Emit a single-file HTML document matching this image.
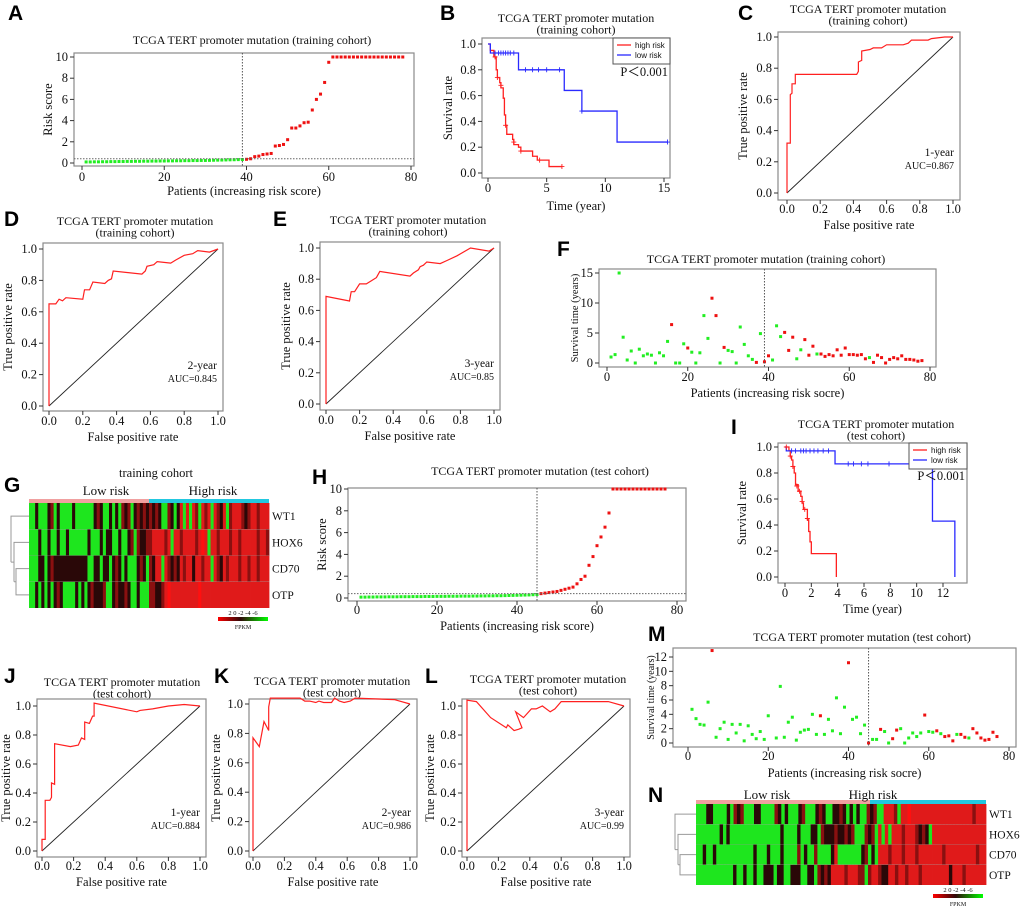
<!DOCTYPE html>
<html><head><meta charset="utf-8"><style>
html,body{margin:0;padding:0;background:#fff;}
svg{display:block;font-family:"Liberation Serif",serif;}
.let{font-family:"Liberation Sans",sans-serif;font-weight:bold;font-size:21px;}
</style></head><body>
<svg id="fig" width="1020" height="909" viewBox="0 0 1020 909" xmlns="http://www.w3.org/2000/svg"></svg>
<script>
// ---------- data ----------
const riskA_red=[0.35,0.4,0.6,0.65,0.8,0.85,0.9,1.6,1.65,1.75,2.2,3.3,3.3,3.5,3.8,3.85,5.0,6.0,6.5,7.6,9.5,10,10,10,10,10,10,10,10,10,10,10,10,10,10,10,10,10,10];
const riskA_green=[0.1,0.1,0.11,0.11,0.12,0.12,0.13,0.13,0.14,0.14,0.15,0.15,0.16,0.16,0.17,0.17,0.18,0.18,0.19,0.19,0.2,0.2,0.21,0.21,0.22,0.22,0.23,0.23,0.24,0.24,0.25,0.26,0.27,0.28,0.29,0.3,0.31,0.32,0.33];
const riskH_green=[0.08,0.08,0.09,0.09,0.1,0.1,0.1,0.11,0.11,0.11,0.12,0.12,0.12,0.13,0.13,0.13,0.14,0.14,0.14,0.15,0.15,0.15,0.16,0.16,0.16,0.17,0.17,0.17,0.18,0.18,0.19,0.19,0.2,0.2,0.21,0.21,0.22,0.23,0.24,0.25,0.26,0.27,0.28,0.3,0.32];
const riskH_red=[0.4,0.45,0.5,0.55,0.6,0.7,0.8,0.9,1.0,1.3,1.7,2.0,3.0,3.8,4.8,5.6,6.5,7.8,10,10,10,10,10,10,10,10,10,10,10,10,10,10];
const survF=[1.0,1.4,15,4.3,0.5,2.0,0,2.3,1.2,1.5,1.3,0,1.7,1.2,3.6,6.4,0,0,3.2,2.5,1.8,0,1.7,7.9,4.1,10.8,7.9,0,2.6,2.1,1.9,0,6.0,3.1,1.2,0.6,0.1,4.9,0.2,1.2,0.5,6.2,4.4,5.1,2.1,4.3,0.7,2.2,3.9,1.3,2.8,1.5,1.5,1.1,1.4,1.2,2.2,1.3,2.5,1.4,1.4,1.3,1.4,0.7,0.9,0.1,1.3,0.9,0,0.6,0.9,0.7,1.2,0.6,0.6,0.5,0.3,0.4];
const deadF=[0,0,0,0,0,0,0,0,0,0,0,0,0,0,0,1,0,0,0,1,0,0,0,0,0,1,1,0,1,0,0,0,0,0,0,0,1,0,1,1,0,0,0,1,1,1,0,0,1,1,1,0,1,1,1,1,1,1,1,1,1,1,1,1,0,1,1,1,1,1,1,1,1,1,1,1,1,1];
const idxM=[1,2,3,4,5,6,7,8,9,10,11,12,13,14,15,16,17,18,19,20,22,23,24,25,26,27,28,29,30,31,32,33,34,35,36,37,38,39,40,41,42,43,44,45,46,47,48,49,50,51,52,53,54,55,56,57,58,59,60,61,62,63,64,65,66,67,68,69,70,71,72,73,74,75,76,77];
const survM=[4.7,3.4,2.6,2.5,5.7,12.9,0.8,2.0,2.9,0.5,2.6,1.4,2.6,0.3,2.4,1.2,0.6,1.6,0.5,3.8,0.7,7.9,0.8,2.9,3.6,0.4,1.5,1.8,1.9,4.0,1.2,3.8,1.2,3.3,1.7,6.3,1.3,5.0,11.2,3.3,3.6,1.3,2.5,0,0.5,0.5,1.9,1.6,0,0.6,1.8,2.0,0,0.7,1.4,0.9,1.4,3.9,1.6,1.5,1.7,1.3,0.9,1.0,0.3,1.2,1.2,0.8,0.7,2.0,1.4,0.7,0.4,0.5,1.5,0.9];
const deadM=[0,0,0,0,0,1,0,0,0,0,0,0,0,0,0,0,0,0,0,0,0,0,0,0,0,0,0,0,0,0,0,1,0,0,0,0,0,0,1,0,0,0,0,1,0,0,1,0,0,1,1,0,0,0,0,0,0,1,0,0,1,0,1,1,1,0,1,1,0,1,1,1,1,1,1,1];
const kmB_high_t=[0,0.2,0.5,0.7,0.8,1.0,1.1,1.3,1.4,1.5,1.6,2.1,2.2,2.6,2.8,3.8,4.2,5.2,6.3];
const kmB_high_s=[1,0.95,0.9,0.8,0.74,0.7,0.66,0.58,0.45,0.37,0.3,0.26,0.22,0.2,0.17,0.13,0.1,0.05,0.05];
const kmB_low_t=[0,0.2,2.6,6.5,8,11,15.3];
const kmB_low_s=[1,0.93,0.8,0.64,0.48,0.24,0.24];
const kmB_low_cens=[[0.6,0.93],[0.9,0.93],[1.1,0.93],[1.3,0.93],[1.5,0.93],[1.7,0.93],[1.9,0.93],[2.2,0.93],[3.2,0.8],[3.8,0.8],[4.3,0.8],[5,0.8],[6.1,0.8],[8,0.48],[15.3,0.24]];
const kmB_high_cens=[[0.6,0.9],[0.8,0.74],[1.1,0.68],[1.5,0.37],[2.2,0.24],[2.8,0.17],[4.4,0.1],[6.3,0.05]];
const kmI_high_t=[0,0.3,0.4,0.5,0.6,0.7,0.8,1.0,1.2,1.3,1.4,1.7,1.8,1.9,2.0,3.9,3.9];
const kmI_high_s=[1,0.97,0.93,0.9,0.85,0.8,0.71,0.66,0.62,0.57,0.52,0.44,0.35,0.27,0.18,0.18,0];
const kmI_low_t=[0,0.1,3.8,11.2,12.9,12.9];
const kmI_low_s=[1,0.97,0.87,0.43,0.43,0];
const kmI_low_cens=[[0.5,0.97],[0.8,0.97],[1.2,0.97],[1.4,0.97],[1.6,0.97],[1.9,0.97],[2.2,0.97],[2.5,0.97],[2.9,0.97],[3.3,0.97],[4.8,0.87],[5.2,0.87],[5.8,0.87],[6.3,0.87],[7.9,0.87]];
const kmI_high_cens=[[0.1,1],[0.4,0.93],[0.6,0.85],[0.9,0.7],[1.1,0.66],[1.3,0.58],[1.5,0.52],[1.7,0.45]];
const rocC_f=[0,0,0.02,0.02,0.03,0.03,0.05,0.05,0.42,0.43,0.43,0.45,0.45,0.5,0.52,0.57,0.6,0.7,0.73,0.75,0.85,0.87,0.95,1];
const rocC_t=[0,0.32,0.32,0.63,0.64,0.7,0.7,0.76,0.76,0.78,0.84,0.85,0.91,0.92,0.93,0.93,0.95,0.95,0.96,0.98,0.98,0.99,1.0,1];
const rocD_f=[0,0,0.04,0.06,0.08,0.1,0.2,0.21,0.24,0.26,0.33,0.35,0.37,0.38,0.55,0.57,0.58,0.62,0.64,0.72,0.75,0.8,0.85,0.88,0.95,1];
const rocD_t=[0,0.65,0.65,0.68,0.67,0.69,0.68,0.74,0.74,0.79,0.78,0.8,0.81,0.86,0.84,0.86,0.89,0.9,0.92,0.91,0.93,0.96,0.97,0.99,0.98,1];
const rocE_f=[0,0,0.14,0.15,0.17,0.2,0.24,0.27,0.3,0.32,0.5,0.52,0.55,0.56,0.58,0.6,0.68,0.72,0.78,0.86,0.97,1];
const rocE_t=[0,0.69,0.66,0.72,0.72,0.77,0.77,0.79,0.81,0.85,0.82,0.84,0.86,0.88,0.89,0.91,0.9,0.92,0.95,1.0,0.98,1];
const rocJ_f=[0,0,0.02,0.02,0.05,0.06,0.06,0.08,0.08,0.18,0.23,0.25,0.27,0.27,0.3,0.32,0.33,0.33,0.6,0.62,0.7,0.8,0.9,1];
const rocJ_t=[0,0.08,0.08,0.35,0.35,0.37,0.47,0.46,0.74,0.72,0.73,0.78,0.77,0.89,0.88,0.93,0.93,1.02,0.96,0.97,0.98,1.0,1.01,1];
const rocK_f=[0,0,0.04,0.07,0.1,0.1,0.11,0.3,0.33,0.36,0.4,0.42,0.45,0.5,0.52,0.55,0.58,0.62,0.65,0.9,1];
const rocK_t=[0,0.77,0.71,0.88,0.82,0.98,1.04,1.04,1.02,1.02,1.01,1.02,1.01,1.01,1.04,1.02,1.01,1.02,1.04,1.03,1];
const rocL_f=[0,0,0.06,0.15,0.25,0.26,0.3,0.33,0.35,0.31,0.36,0.41,0.44,0.48,0.53,0.56,0.6,0.9,1];
const rocL_t=[0,1.04,1.03,0.92,0.85,0.87,0.83,0.84,0.85,0.96,0.92,0.98,0.98,1.0,0.96,0.98,1.03,1.03,1];
const genes=['WT1','HOX6','CD70','OTP'];
const heatG=["GGkGGGkdGkGGGGkGGGGGGkdkGGkGkGdkdGkdkdkdkdkGGdkGkrGrGrdGrdrGrdkrGdrrrdkdrrdrrr",
"GGGkGGkGGkGGkGGGGGGkGGGkGkkGGkGGkdGdkkddrrrrdrGrrdrrrrdrRrGrrdrrrdrrdrrrrrdrrd",
"GGGkkGkdkkkkkkkkkkkGGkkGkkGkdkGkGGGkdkGdkrrGrdkdkrdrrkrrdrrGrdkrdrrrdrrdrrdrrr",
"GGkGkGkGkdkGGGGkGkGkdkkkdGGkdkkdkGGkGGGddkkdrRrrrrrrrrrRrrrrrrrrrrrrrrrrrrrrrr"];
const heatN=["GGGkkGGGGkGdkdGGGkkGGGGdkGkGGGkdGGGkdkGGkkdkGkGkGGdkdGGrrrdGrrRrrrrrrrrrrrrrrrrrrdrrr",
"GGGGGGGkGkGGGGGGGGGGGGGGGkGGGGkGGGkkGdkkkdkkdkdGGGdkdGrGrGrrrdrrrdkdkGrrrrrrrrrrrrrrrr",
"GGkGGkGGGGGGGGGGGkGGGkGGGkGGGGdGkGGdGGGGkrGGGGGGGkdGkGrrrdrrrdrrrdrrrrrrrdrrrrrrrrrdrr",
"GGGGGGGGGGGkGGkGGkGGkkkGkkGGkkkGGkkGdkdkrrrrdrrrddGdrrdkkrrdrrdrrrdrrrrrrrrkrrrdrrrrrr"];
const heatColors={G:'#1ee61e',k:'#2a0808',d:'#8a1010',r:'#e01a1a',R:'#ff1010'};

// ---------- helpers ----------
const NS='http://www.w3.org/2000/svg';
const svg=document.getElementById('fig');
function mk(tag,attrs,parent){const e=document.createElementNS(NS,tag);for(const k in attrs)e.setAttribute(k,attrs[k]);(parent||svg).appendChild(e);return e;}
function tx(s,x,y,attrs,parent){const e=mk('text',Object.assign({x:x,y:y,'font-size':11,fill:'#111'},attrs||{}),parent);e.textContent=s;return e;}
function lin(d0,d1,p0,p1){return v=>p0+(v-d0)/(d1-d0)*(p1-p0);}
function group(name){const g=mk('g',{});return g;}

function panel(p){
  const g=group(p.name);
  const L=tx(p.letter,p.lx,p.ly,{class:'let','font-size':21,fill:'#000'},g);
  
  
  p.title.forEach((t,i)=>{const e=tx(t,p.tcx,p.ty+i*11.5,{'text-anchor':'middle','font-size':12},g);
    
    });
  const b=p.box;
  const fr=mk('rect',{x:b[0],y:b[1],width:b[2]-b[0],height:b[3]-b[1],fill:'none',stroke:'#8a8a8a','stroke-width':1.2},g);
  
  
  p.xt.forEach(v=>{const x=p.sx(v);
    const t=mk('line',{x1:x,x2:x,y1:b[3],y2:b[3]+4,stroke:'#333'},g);
    
    
    const l=tx(p.xf(v),x,p.xly,{'text-anchor':'middle','font-size':12.5},g);
    
    });
  p.yt.forEach(v=>{const y=p.sy(v);
    const t=mk('line',{x1:b[0]-4,x2:b[0],y1:y,y2:y,stroke:'#333'},g);
    
    
    const l=tx(p.yf(v),b[0]-6,y+4,{'text-anchor':'end','font-size':12.5},g);
    
    });
  const xa=tx(p.xlab,(b[0]+b[2])/2,p.xty,{'text-anchor':'middle','font-size':12.5},g);
  
  
  const cy=(b[1]+b[3])/2;
  const ya=tx(p.ylab,p.ytx,cy,{'text-anchor':'middle','font-size':p.yfs||12.5,transform:'rotate(-90 '+p.ytx+' '+cy+')'},g);
  
  
  return g;
}
const f1=v=>v.toFixed(1), f0=v=>String(v);
const TT='TCGA  TERT   promoter mutation';

function dot(g,x,y,c,name){const d=mk('rect',{x:x-1.5,y:y-1.5,width:3,height:3,fill:c},g);
  
  }

function riskPlot(p,green,red,cut,hline){
  const g=panel(p);
  green.forEach((v,i)=>dot(g,p.sx(i+1),p.sy(v),'#22ee22','risk-point-low'));
  red.forEach((v,i)=>dot(g,p.sx(green.length+i+1),p.sy(v),'#ee1111','risk-point-high'));
  const vl=mk('line',{x1:p.sx(cut),x2:p.sx(cut),y1:p.box[1],y2:p.box[3],stroke:'#555','stroke-dasharray':'1.5,1.5'},g);
  
  
  const hl=mk('line',{x1:p.box[0],x2:p.box[2],y1:p.sy(hline),y2:p.sy(hline),stroke:'#666','stroke-dasharray':'1.5,1.5'},g);
  
  
}
function survPlot(p,idx,vals,dead,cut){
  const g=panel(p);
  vals.forEach((v,i)=>dot(g,p.sx(idx[i]),p.sy(v),dead[i]?'#ee1111':'#22ee22',dead[i]?'dead-patient-point':'alive-patient-point'));
  const vl=mk('line',{x1:p.sx(cut),x2:p.sx(cut),y1:p.box[1],y2:p.box[3],stroke:'#555','stroke-dasharray':'1.5,1.5'},g);
  
  
}
function step(p,t,s){let d='M'+p.sx(t[0])+','+p.sy(s[0]);
  for(let i=1;i<t.length;i++){d+=' H'+p.sx(t[i])+' V'+p.sy(s[i]);}return d;}
function kmPlot(p,ht,hs,lt,ls,hc,lc,leg,pv){
  const g=panel(p);
  const a=mk('path',{d:step(p,ht,hs),fill:'none',stroke:'#ff2020','stroke-width':1.3},g);
  
  
  const b=mk('path',{d:step(p,lt,ls),fill:'none',stroke:'#2a2aff','stroke-width':1.3},g);
  
  
  [[hc,'#ff2020'],[lc,'#2a2aff']].forEach(([arr,c])=>arr.forEach(([t,s])=>{
    const x=p.sx(t),y=p.sy(s);
    const m=mk('path',{d:`M${x-2.5},${y}H${x+2.5}M${x},${y-2.5}V${y+2.5}`,stroke:c,'stroke-width':0.9},g);
    
    }));
  const lg=mk('g',{},g);
  
  
  mk('rect',{x:leg[0],y:leg[1],width:leg[2]-leg[0],height:leg[3]-leg[1],fill:'#fff',stroke:'#555'},lg);
  [['high risk','#ff2020'],['low risk','#2a2aff']].forEach(([n,c],i)=>{
    const y=leg[1]+7+i*10;
    const ln=mk('line',{x1:leg[0]+4,x2:leg[0]+18,y1:y,y2:y,stroke:c,'stroke-width':1.3},lg);
    
    
    const t=tx(n,leg[0]+22,y+3,{'font-size':8,'font-family':'Liberation Sans, sans-serif'},lg);
    
    });
  const pt=tx('P\uFF1C0.001',pv[0],pv[1],{'text-anchor':'end','font-size':12.5},g);
  
  
}
function rocPlot(p,fp,tp,yr,auc,ay){
  const g=panel(p);
  const dg=mk('line',{x1:p.sx(0),y1:p.sy(0),x2:p.sx(1),y2:p.sy(1),stroke:'#222','stroke-width':0.9},g);
  
  
  const d=fp.map((f,i)=>(i?'L':'M')+p.sx(f).toFixed(1)+','+p.sy(tp[i]).toFixed(1)).join(' ');
  const c=mk('path',{d:d,fill:'none',stroke:'#ff2020','stroke-width':1.2},g);
  
  
  const a=tx(yr,p.box[2]-6,ay,{'text-anchor':'end','font-size':11.5},g);
  
  
  const b=tx(auc,p.box[2]-6,ay+13,{'text-anchor':'end','font-size':10},g);
  
  
}
function heatmap(name,rows,x0,x1,y0,y1,nLow,letter,lpos,title,lowX,highX,riskY,legX,legY,dendX){
  const g=group(name);
  if(letter){const L=tx(letter,lpos[0],lpos[1],{class:'let','font-size':21,fill:'#000'},g);
    
    }
  if(title){const t=tx(title[0],title[1],title[2],{'text-anchor':'middle','font-size':12.5},g);
    
    }
  const n=rows[0].length, cw=(x1-x0)/n, rh=(y1-y0)/rows.length;
  const lowW=nLow*cw;
  const ba=mk('rect',{x:x0,y:y0-4,width:lowW,height:4,fill:'#f0a0a0'},g);
  
  
  const bb=mk('rect',{x:x0+lowW,y:y0-4,width:x1-x0-lowW,height:4,fill:'#22c8e0'},g);
  
  
  const lt=tx('Low risk',lowX,riskY,{'text-anchor':'middle','font-size':13},g);
  
  
  const ht=tx('High risk',highX,riskY,{'text-anchor':'middle','font-size':13},g);
  
  
  rows.forEach((r,ri)=>{
    const cw2=(x1-x0)/r.length;
    for(let c=0;c<r.length;c++){
      const cell=mk('rect',{x:(x0+c*cw2).toFixed(2),y:y0+ri*rh,width:(cw2+0.4).toFixed(2),height:rh,fill:heatColors[r[c]]},g);
      
      
    }
    const gl=tx(genes[ri],x1+3,y0+ri*rh+rh/2+4,{'font-size':11.5},g);
    
    
    if(ri>0){const s=mk('line',{x1:x0,x2:x1,y1:y0+ri*rh,y2:y0+ri*rh,stroke:'#999','stroke-width':0.6,'stroke-opacity':0.6},g);
      
      }
  });
  const cy=i=>y0+i*rh+rh/2, dx=dendX;
  const n34=(cy(2)+cy(3))/2, n234=(cy(1)+n34)/2;
  const dd=`M${x0},${cy(2)}H${dx+6}V${cy(3)}H${x0} M${dx+6},${n34}H${dx+4} M${x0},${cy(1)}H${dx+4}V${n34} M${dx+4},${n234}H${dx+1} M${x0},${cy(0)}H${dx+1}V${n234}`;
  const de=mk('path',{d:dd,fill:'none',stroke:'#999','stroke-width':1},g);
  
  
  const defs=mk('defs',{},g);
  const gr=mk('linearGradient',{id:name+'-grad',x1:0,x2:1,y1:0,y2:0},defs);
  [['0','#ff0000'],['0.45','#300808'],['1','#00ff00']].forEach(([o,c])=>mk('stop',{offset:o,'stop-color':c},gr));
  const kb=mk('rect',{x:legX,y:legY,width:50,height:4,fill:`url(#${name}-grad)`},g);
  
  
  const kt=tx('2   0  -2  -4  -6',legX+25,legY-2,{'text-anchor':'middle','font-size':6.5},g);
  
  
  const kf=tx('FPKM',legX+25,legY+12,{'text-anchor':'middle','font-size':6},g);
  
  
}

// ---------- panels ----------
riskPlot({name:'panel-a-risk-score',letter:'A',lx:8,ly:20,title:[TT+'  (training cohort)'],tcx:252,ty:44,
  box:[74,53,414,166],sx:lin(0,80,82,411),sy:lin(0,10,163,57),xt:[0,20,40,60,80],yt:[0,2,4,6,8,10],xf:f0,yf:f0,
  xly:181,xty:195,xlab:'Patients (increasing risk score)',ylab:'Risk score',ytx:52},riskA_green,riskA_red,39,0.4);

kmPlot({name:'panel-b-km-training',letter:'B',lx:440,ly:20,title:[TT,'(training cohort)'],tcx:576,ty:22,
  box:[482,38,670,178],sx:lin(0,15,488,664),sy:lin(0,1,173,44),xt:[0,5,10,15],yt:[0,0.2,0.4,0.6,0.8,1.0],xf:f0,yf:f1,
  xly:192,xty:210,xlab:'Time (year)',ylab:'Survival rate',ytx:452},kmB_high_t,kmB_high_s,kmB_low_t,kmB_low_s,kmB_high_cens,kmB_low_cens,[613,38,670,64],[668,76]);

rocPlot({name:'panel-c-roc-1yr-training',letter:'C',lx:738,ly:20,title:[TT,'(training cohort)'],tcx:868,ty:13,
  box:[778,32,960,200],sx:lin(0,1,787,953),sy:lin(0,1,193,37),xt:[0,0.2,0.4,0.6,0.8,1.0],yt:[0,0.2,0.4,0.6,0.8,1.0],xf:f1,yf:f1,
  xly:213,xty:229,xlab:'False positive rate',ylab:'True positive rate',ytx:747},rocC_f,rocC_t,'1-year','AUC=0.867',156);

rocPlot({name:'panel-d-roc-2yr-training',letter:'D',lx:4,ly:226,title:[TT,'(training cohort)'],tcx:135,ty:225,
  box:[43,243,223,411],sx:lin(0,1,49,218),sy:lin(0,1,406,249),xt:[0,0.2,0.4,0.6,0.8,1.0],yt:[0,0.2,0.4,0.6,0.8,1.0],xf:f1,yf:f1,
  xly:425,xty:441,xlab:'False positive rate',ylab:'True positive rate',ytx:12},rocD_f,rocD_t,'2-year','AUC=0.845',369);

rocPlot({name:'panel-e-roc-3yr-training',letter:'E',lx:273,ly:226,title:[TT,'(training cohort)'],tcx:408,ty:224,
  box:[320,242,500,410],sx:lin(0,1,326,494),sy:lin(0,1,404,248),xt:[0,0.2,0.4,0.6,0.8,1.0],yt:[0,0.2,0.4,0.6,0.8,1.0],xf:f1,yf:f1,
  xly:424,xty:440,xlab:'False positive rate',ylab:'True positive rate',ytx:290},rocE_f,rocE_t,'3-year','AUC=0.85',367);

survPlot({name:'panel-f-survival-training',letter:'F',lx:557,ly:256,title:[TT+' (training cohort)'],tcx:766,ty:263,
  box:[599,269,936,367],sx:lin(0,80,607,930),sy:lin(0,15,363,273),xt:[0,20,40,60,80],yt:[0,5,10,15],xf:f0,yf:f0,
  xly:381,xty:397,xlab:'Patients (increasing risk socre)',ylab:'Survival time (years)',ytx:578,yfs:10.5},
  survF.map((v,i)=>i+1),survF,deadF,39);

heatmap('panel-g-heatmap-training',heatG,29,269,503,608,39,'G',[4,492],['training cohort',156,477],106,213,495,218,617,10);

riskPlot({name:'panel-h-risk-score-test',letter:'H',lx:312,ly:484,title:[TT+' (test cohort)'],tcx:540,ty:475,
  box:[348,488,686,601],sx:lin(0,80,357,677),sy:lin(0,10,598,489),xt:[0,20,40,60,80],yt:[0,2,4,6,8,10],xf:f0,yf:f0,
  xly:614,xty:630,xlab:'Patients (increasing risk score)',ylab:'Risk score',ytx:326},riskH_green,riskH_red,45,0.4);

kmPlot({name:'panel-i-km-test',letter:'I',lx:731,ly:434,title:[TT,'(test cohort)'],tcx:876,ty:428,
  box:[778,443,967,583],sx:lin(0,12,785,943),sy:lin(0,1,577,447),xt:[0,2,4,6,8,10,12],yt:[0,0.2,0.4,0.6,0.8,1.0],xf:f0,yf:f1,
  xly:597,xty:613,xlab:'Time (year)',ylab:'Survival rate',ytx:746},kmI_high_t,kmI_high_s,kmI_low_t,kmI_low_s,kmI_high_cens,kmI_low_cens,[909,443,967,469],[965,480]);

rocPlot({name:'panel-j-roc-1yr-test',letter:'J',lx:4,ly:683,title:[TT,'(test cohort)'],tcx:122,ty:686,
  box:[37,699,206,857],sx:lin(0,1,42,200),sy:lin(0,1,851,706),xt:[0,0.2,0.4,0.6,0.8,1.0],yt:[0,0.2,0.4,0.6,0.8,1.0],xf:f1,yf:f1,
  xly:870,xty:886,xlab:'False positive rate',ylab:'True positive rate',ytx:10},rocJ_f,rocJ_t,'1-year','AUC=0.884',816);

rocPlot({name:'panel-k-roc-2yr-test',letter:'K',lx:214,ly:683,title:[TT,'(test cohort)'],tcx:332,ty:685,
  box:[249,699,417,857],sx:lin(0,1,253,410),sy:lin(0,1,851,704),xt:[0,0.2,0.4,0.6,0.8,1.0],yt:[0,0.2,0.4,0.6,0.8,1.0],xf:f1,yf:f1,
  xly:870,xty:886,xlab:'False positive rate',ylab:'True positive rate',ytx:220},rocK_f,rocK_t,'2-year','AUC=0.986',816);

rocPlot({name:'panel-l-roc-3yr-test',letter:'L',lx:425,ly:683,title:[TT,'(test cohort)'],tcx:548,ty:683,
  box:[462,699,630,857],sx:lin(0,1,467,624),sy:lin(0,1,851,706),xt:[0,0.2,0.4,0.6,0.8,1.0],yt:[0,0.2,0.4,0.6,0.8,1.0],xf:f1,yf:f1,
  xly:870,xty:886,xlab:'False positive rate',ylab:'True positive rate',ytx:434},rocL_f,rocL_t,'3-year','AUC=0.99',816);

survPlot({name:'panel-m-survival-test',letter:'M',lx:648,ly:641,title:[TT+' (test cohort)'],tcx:862,ty:641,
  box:[673,648,1016,747],sx:lin(0,80,688,1009),sy:lin(0,12,743,657),xt:[0,20,40,60,80],yt:[0,2,4,6,8,10,12],xf:f0,yf:f0,
  xly:760,xty:777,xlab:'Patients (increasing risk socre)',ylab:'Survival time (years)',ytx:654,yfs:10},
  idxM,survM,deadM,45);

heatmap('panel-n-heatmap-test',heatN,696,986,804,885,51,'N',[648,802],null,767,873,799,933,894,674);
</script>
</body></html>
